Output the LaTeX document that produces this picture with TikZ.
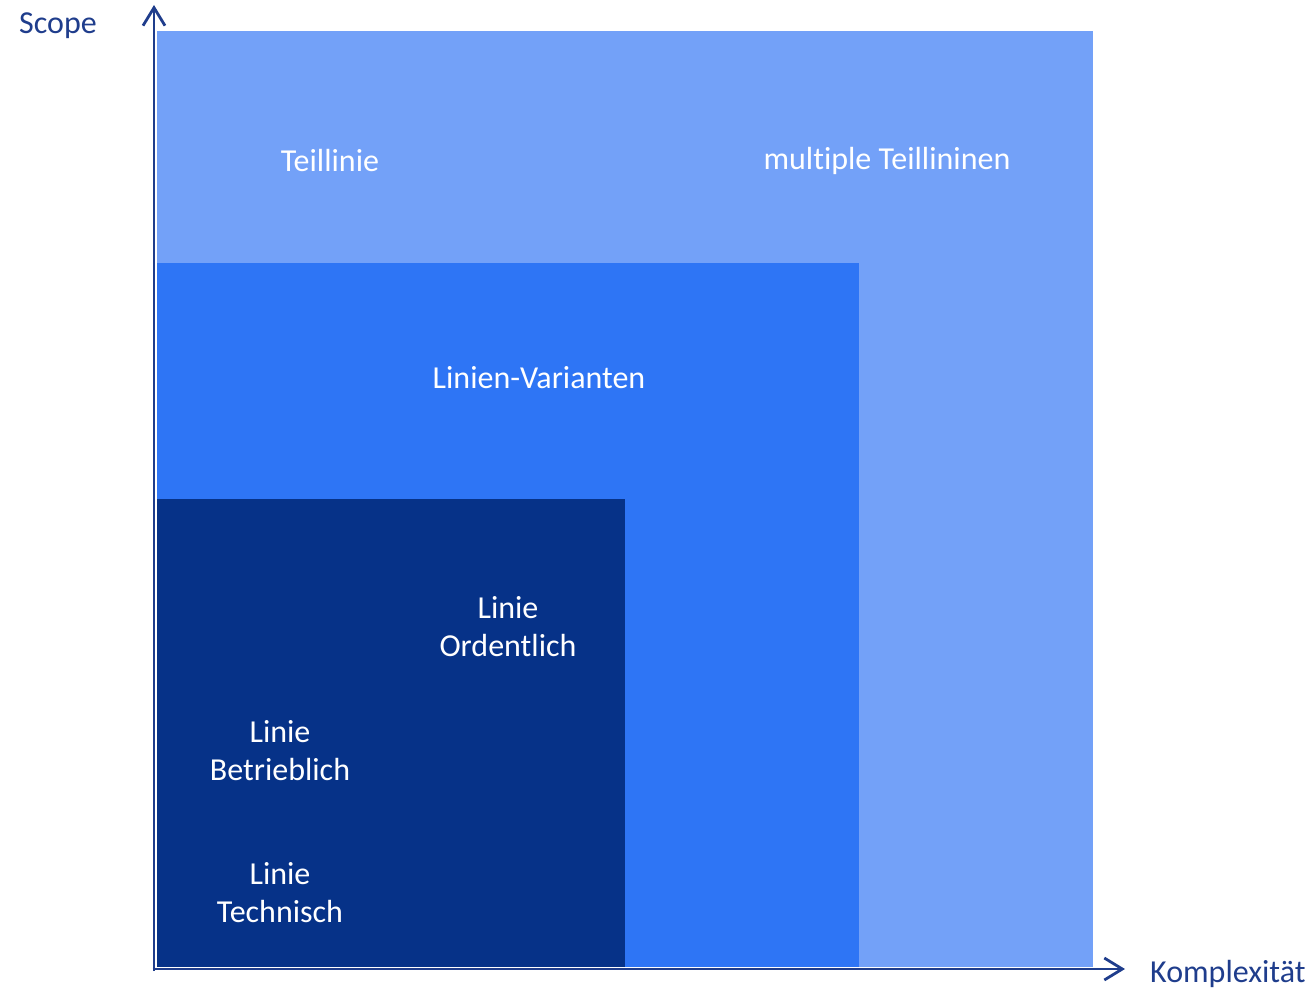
\documentclass[tikz,border=0pt]{standalone}
\usepackage{fontspec}
\setmainfont{Carlito}[RawFeature={-liga;-clig;-dlig}]
\usetikzlibrary{arrows.meta}
\definecolor{lightbox}{RGB}{115,161,248}
\definecolor{midbox}{RGB}{46,117,245}
\definecolor{darkbox}{RGB}{6,50,136}
\definecolor{axiscol}{RGB}{31,61,140}
\tikzset{
  box/.style={fill=#1, draw=none},
  lbl/.style={text=white, font=\fontsize{32}{38}\selectfont, align=center, inner sep=0pt},
  axlbl/.style={text=axiscol, font=\fontsize{32}{38}\selectfont, inner sep=0pt},
  axis/.style={draw=axiscol, line width=2.8pt, -{Straight Barb[length=18pt,width=22pt,line width=2.8pt]}}
}
\begin{document}
\begin{tikzpicture}[x=1pt,y=-1pt]
\useasboundingbox (0,0) rectangle (1314,990);
\fill[box=lightbox] (157,31) rectangle (1093,967);
\fill[box=midbox] (157,263) rectangle (859,967);
\fill[box=darkbox] (157,499) rectangle (625,967);
\coordinate (origin) at (154,969);
\coordinate (ytip) at (154,5);
\coordinate (xtip) at (1125,969);
\draw[axis] (154,971) -- (ytip);
\draw[axis] (152.6,969) -- (xtip);
\node[axlbl] (scope) at (58,26) {Scope};
\node[axlbl,anchor=west] (komp) at (1150,974) {Komplexität};
\node[lbl] (teil) at (330,160) {Teillinie};
\node[lbl] (multi) at (887,161) {multiple Teillininen};
\node[lbl] (var) at (539,378) {Linien-Varianten};
\node[lbl] (ord) at (508,627) {Linie\\Ordentlich};
\node[lbl] (betr) at (280,751) {Linie\\Betrieblich};
\node[lbl] (tech) at (280,893) {Linie\\Technisch};
\end{tikzpicture}
\end{document}
